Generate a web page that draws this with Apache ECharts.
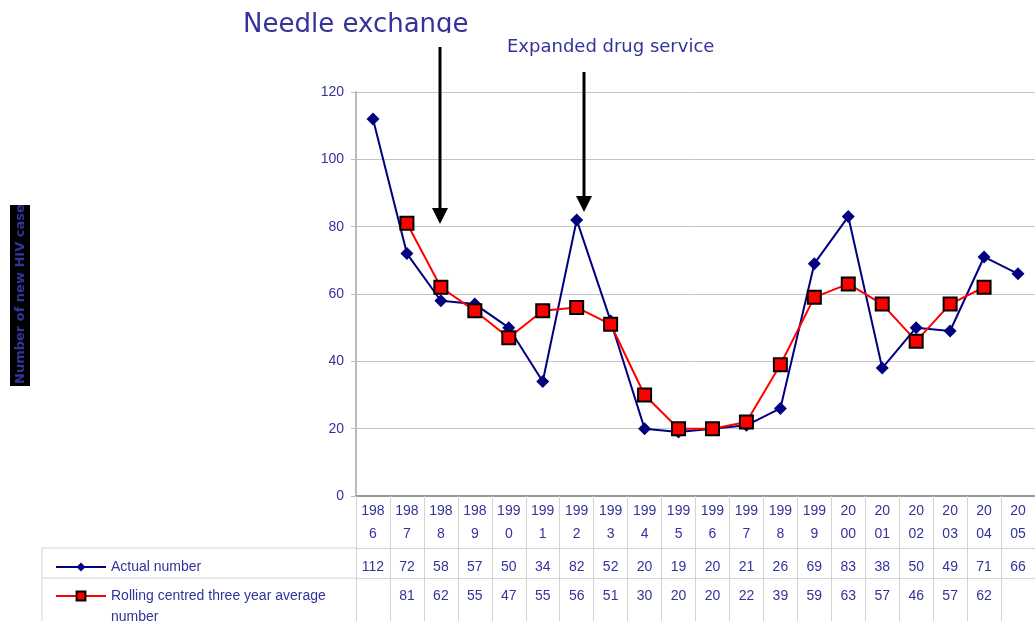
<!DOCTYPE html>
<html>
<head>
<meta charset="UTF-8">
<title>Number of new HIV cases</title>
<script src="https://cdn.jsdelivr.net/npm/echarts@6/dist/echarts.min.js"></script>
<style>
	html, body { margin: 0; padding: 0; background: #fff; }
	#chart { width: 1035px; height: 621px; }
</style>
</head>
<body>
<div id="chart"></div>
<script type="text/javascript">
	// data
	var years = ['1986','1987','1988','1989','1990','1991','1992','1993','1994','1995',
		'1996','1997','1998','1999','2000','2001','2002','2003','2004','2005'];
	var actualNumber = [112, 72, 58, 57, 50, 34, 82, 52, 20, 19, 20, 21, 26, 69, 83, 38, 50, 49, 71, 66];
	var rollingAverage = [null, 81, 62, 55, 47, 55, 56, 51, 30, 20, 20, 22, 39, 59, 63, 57, 46, 57, 62, null];
	var yTicks = [0, 20, 40, 60, 80, 100, 120];

	var txt = '#333399';
	var tableLine = '#d4d4d4';

	var chart = echarts.init(document.getElementById('chart'));

	// year label is split over two lines like in the table
	function splitYear(y) {
		return +y < 2000 ? y.slice(0, 3) + '\n' + y.slice(3) : y.slice(0, 2) + '\n' + y.slice(2);
	}

	var legendText = { color: txt, fontSize: 14, fontFamily: 'Liberation Sans', lineHeight: 22 };

	var option = {
		animation: false,
		backgroundColor: '#fff',
		grid: { left: 356, right: -16, top: 92, bottom: 125 },
		legend: [
			{
				orient: 'vertical', left: 50, top: 551, itemWidth: 50, itemHeight: 11,
				textStyle: legendText,
				data: ['Actual number']
			},
			{
				// last word goes on its own line (graphic below) so the symbol stays on the first line
				orient: 'vertical', left: 50, top: 580, itemWidth: 50, itemHeight: 11,
				textStyle: legendText,
				formatter: function (name) { return name.replace(/ number$/, ''); },
				data: ['Rolling centred three year average number']
			}
		],
		xAxis: [
			{
				type: 'category',
				data: years,
				boundaryGap: true,
				axisLine: { lineStyle: { color: '#999', width: 2 } },
				axisTick: { show: true, interval: 0, length: 125, lineStyle: { color: tableLine, width: 1 } },
				axisLabel: {
					interval: 0, margin: 4, color: txt, fontSize: 14, fontFamily: 'Liberation Sans', lineHeight: 23,
					formatter: function (v) { return splitYear(v); }
				},
				splitLine: { show: false }
			},
			{
				type: 'category',
				data: years,
				position: 'bottom',
				offset: 52,
				axisLine: { lineStyle: { color: tableLine, width: 1 } },
				axisTick: { show: false },
				axisLabel: {
					interval: 0, margin: 12, color: txt, fontSize: 14, fontFamily: 'Liberation Sans',
					formatter: function (v, i) { return actualNumber[i] == null ? '' : String(actualNumber[i]); }
				}
			},
			{
				type: 'category',
				data: years,
				position: 'bottom',
				offset: 82,
				axisLine: { lineStyle: { color: tableLine, width: 1 } },
				axisTick: { show: false },
				axisLabel: {
					interval: 0, margin: 11, color: txt, fontSize: 14, fontFamily: 'Liberation Sans',
					formatter: function (v, i) { return rollingAverage[i] == null ? '' : String(rollingAverage[i]); }
				}
			}
		],
		yAxis: {
			type: 'value',
			min: yTicks[0],
			max: yTicks[yTicks.length - 1],
			interval: yTicks[1] - yTicks[0],
			axisLine: { show: true, lineStyle: { color: '#bbb', width: 2 } },
			axisTick: { show: true, length: 5, lineStyle: { color: '#bbb' } },
			axisLabel: { color: txt, fontSize: 14, fontFamily: 'Liberation Sans', margin: 12 },
			splitLine: { lineStyle: { color: '#c4c4c4', width: 1 } }
		},
		series: [
			{
				name: 'Actual number',
				type: 'line',
				data: actualNumber,
				symbol: 'diamond',
				symbolSize: 13,
				lineStyle: { color: '#000080', width: 2 },
				itemStyle: { color: '#000080' }
			},
			{
				name: 'Rolling centred three year average number',
				type: 'line',
				data: rollingAverage,
				symbol: 'rect',
				symbolSize: 13,
				lineStyle: { color: '#ff0000', width: 2 },
				itemStyle: { color: '#ff0000', borderColor: '#000', borderWidth: 2 }
			}
		],
		graphic: [
			// table borders on the left
			{ type: 'line', shape: { x1: 42, y1: 548, x2: 356, y2: 548 }, style: { stroke: tableLine, lineWidth: 1 } },
			{ type: 'line', shape: { x1: 42, y1: 578, x2: 356, y2: 578 }, style: { stroke: tableLine, lineWidth: 1 } },
			{ type: 'line', shape: { x1: 42, y1: 548, x2: 42, y2: 621 }, style: { stroke: tableLine, lineWidth: 1 } },
			{
				type: 'text', x: 111, y: 617,
				style: { text: 'number', fill: txt, font: '14px "Liberation Sans"', textAlign: 'left', textVerticalAlign: 'middle' }
			},

			// y axis title in a black box
			{ type: 'rect', shape: { x: 10, y: 205, width: 20, height: 181 }, style: { fill: '#000' } },
			{
				type: 'text', x: 21, y: 384, rotation: Math.PI / 2,
				style: { text: 'Number of new HIV cases', fill: txt, font: 'bold 13px "DejaVu Sans"', textAlign: 'left', textVerticalAlign: 'middle' }
			},
			{ type: 'rect', shape: { x: 0, y: 0, width: 40, height: 205 }, style: { fill: '#fff' }, z: 100 },

			// annotations
			{
				type: 'text', x: 243, y: 25,
				style: { text: 'Needle exchange', fill: txt, font: '26px "DejaVu Sans"', textAlign: 'left', textVerticalAlign: 'middle' }
			},
			{ type: 'rect', shape: { x: 238, y: 33, width: 250, height: 12 }, style: { fill: '#fff' }, z: 100 },
			{
				type: 'text', x: 507, y: 47,
				style: { text: 'Expanded drug service', fill: txt, font: '18px "DejaVu Sans"', textAlign: 'left', textVerticalAlign: 'middle' }
			},
			{ type: 'line', shape: { x1: 440, y1: 47, x2: 440, y2: 210 }, style: { stroke: '#000', lineWidth: 3 }, z: 50 },
			{ type: 'polygon', shape: { points: [[432, 208], [448, 208], [440, 224]] }, style: { fill: '#000' }, z: 50 },
			{ type: 'line', shape: { x1: 584, y1: 72, x2: 584, y2: 198 }, style: { stroke: '#000', lineWidth: 3 }, z: 50 },
			{ type: 'polygon', shape: { points: [[576, 196], [592, 196], [584, 212]] }, style: { fill: '#000' }, z: 50 }
		]
	};

	chart.setOption(option);
</script>
</body>
</html>
